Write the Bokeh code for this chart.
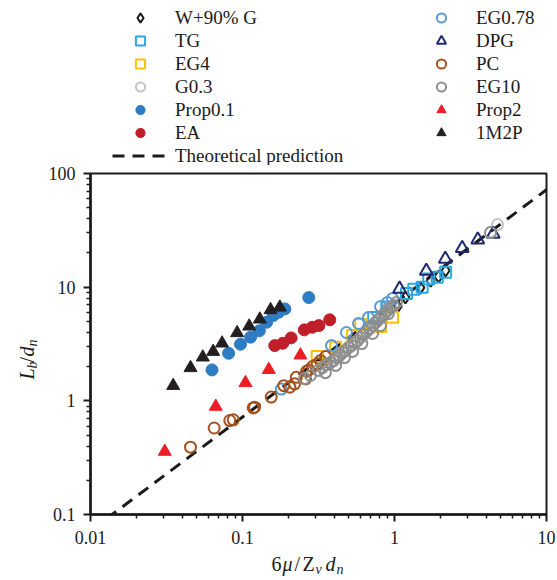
import math
from bokeh.plotting import figure
from bokeh.layouts import row, column
from bokeh.models import Range1d, FixedTicker, Legend, LegendItem
from bokeh.core.properties import value
from bokeh.embed import file_html
from bokeh.resources import INLINE

# ---------------- data ----------------
x_ticks = [0.01, 0.1, 1, 10]
x_tick_labels = ["0.01", "0.1", "1", "10"]
y_ticks = [0.1, 1, 10, 100]
y_tick_labels = ["0.1", "1", "10", "100"]

w90g_x = [1.05, 1.18, 1.48, 1.73, 1.95, 2.17]
w90g_y = [6.75, 8.1, 9.9, 11.4, 12.4, 14.0]

tg_x = [0.73, 0.89, 1.2, 1.34, 1.52, 1.68, 1.91, 2.17]
tg_y = [5.4, 6.68, 8.8, 9.6, 10.0, 11.8, 12.2, 13.5]

eg4_x = [0.31, 0.41, 0.53, 0.60, 0.81, 0.97]
eg4_y = [2.45, 2.96, 3.75, 4.69, 4.5, 5.44]

g03_x = [4.76]
g03_y = [35.5]

prop01_x = [0.063, 0.081, 0.097, 0.113, 0.129, 0.144, 0.159, 0.173, 0.19, 0.273]
prop01_y = [1.87, 2.62, 3.15, 3.63, 4.13, 4.91, 5.62, 6.02, 6.44, 8.1]

ea_x = [0.163, 0.184, 0.209, 0.255, 0.288, 0.318, 0.375]
ea_y = [3.06, 3.21, 3.58, 4.21, 4.44, 4.59, 5.16]

eg078_x = [0.18, 0.385, 0.483, 0.58, 0.674, 0.809, 0.899, 0.97]
eg078_y = [1.27, 3.06, 3.99, 4.79, 5.4, 6.75, 7.32, 7.94]

dpg_x = [1.08, 1.62, 2.16, 2.79, 3.53, 4.46]
dpg_y = [9.66, 13.9, 17.7, 22.0, 26.1, 29.4]

pc_x = [0.0455, 0.0651, 0.0825, 0.0869, 0.1176, 0.12, 0.1545, 0.187, 0.205,
        0.22, 0.226, 0.26, 0.264, 0.273, 0.289, 0.31, 0.326, 0.352]
pc_y = [0.391, 0.577, 0.671, 0.681, 0.867, 0.879, 1.08, 1.36, 1.32,
        1.41, 1.61, 1.56, 1.82, 1.87, 2.0, 2.12, 2.26, 2.45]

eg10_x = [0.256, 0.28, 0.316, 0.336, 0.351, 0.357, 0.379, 0.397, 0.41, 0.415,
          0.435, 0.455, 0.469, 0.476, 0.498, 0.521, 0.53, 0.546, 0.571, 0.597,
          0.61, 0.625, 0.654, 0.685, 0.717, 0.717, 0.75, 0.785, 0.809, 0.821,
          0.859, 0.899, 0.912, 0.941, 0.985, 1.03, 4.28]
eg10_y = [1.57, 1.67, 1.85, 1.96, 1.77, 2.09, 2.17, 2.26, 2.05, 2.40,
          2.50, 2.66, 2.40, 2.77, 2.94, 3.06, 2.72, 3.26, 3.39, 3.61,
          3.19, 3.83, 4.07, 4.32, 4.59, 3.91, 4.88, 5.19, 4.59, 5.51,
          5.86, 6.22, 5.86, 6.62, 6.89, 7.32, 30.2]

prop2_x = [0.0308, 0.0667, 0.1046, 0.149, 0.2405]
prop2_y = [0.358, 0.891, 1.44, 1.88, 2.52]

m1m2p_x = [0.035, 0.0455, 0.0548, 0.0641, 0.0734, 0.0922, 0.1107, 0.130, 0.153, 0.176]
m1m2p_y = [1.36, 1.95, 2.42, 2.71, 3.21, 3.96, 4.53, 5.22, 6.31, 6.65]

theory_coef = 7.2
theory_x = [0.01, 10]
theory_y = [theory_coef * v for v in theory_x]

# series: (label, x, y, marker, colour, filled, size)
series = [
    ("W+90% G", w90g_x, w90g_y, "diamond", "#1a1a1a", False, 12),
    ("TG", tg_x, tg_y, "square", "#29a9e1", False, 11),
    ("EG4", eg4_x, eg4_y, "square", "#ffc000", False, 11),
    ("G0.3", g03_x, g03_y, "circle", "#c4c4c4", False, 11),
    ("Prop0.1", prop01_x, prop01_y, "circle", "#2e7cc4", True, 12),
    ("EA", ea_x, ea_y, "circle", "#c01f2a", True, 12),
    ("EG0.78", eg078_x, eg078_y, "circle", "#5b9bd5", False, 11),
    ("DPG", dpg_x, dpg_y, "triangle", "#1f2b6e", False, 13),
    ("PC", pc_x, pc_y, "circle", "#a5521f", False, 11),
    ("EG10", eg10_x, eg10_y, "circle", "#8e8e8e", False, 11),
    ("Prop2", prop2_x, prop2_y, "triangle", "#ee1c25", True, 13),
    ("1M2P", m1m2p_x, m1m2p_y, "triangle", "#231f20", True, 13),
]
left_labels = ["W+90% G", "TG", "EG4", "G0.3", "Prop0.1", "EA"]
right_labels = ["EG0.78", "DPG", "PC", "EG10", "Prop2", "1M2P"]
theory_label = "Theoretical prediction"

# ---------------- layout constants (page pixels) ----------------
INK = "#1a1a1a"
FONT = "Liberation Serif"
PAGE_W = 557
LEG_H = 165        # legend strip: page y 0..165
YT_W = 45          # y-title strip width
MAIN_W = PAGE_W - YT_W
B_TOP, B_BOT = 8, 36
MAIN_H = B_TOP + 341 + B_BOT   # main figure: page y 165..550 (frame 173..514)
XT_H = 29          # x-title strip: page y 550..579


def draw_series(f, visible=True):
    out = {}
    for lab, xs, ys, mk, col, filled, size in series:
        out[lab] = f.scatter(xs, ys, marker=mk, size=size, line_color=col,
                             fill_color=col if filled else None,
                             line_width=1 if filled else 2, visible=visible)
    return out

# ---------------- main figure ----------------
p = figure(width=MAIN_W, height=MAIN_H, x_axis_type="log", y_axis_type="log",
           x_range=Range1d(0.01, 10), y_range=Range1d(0.1, 100),
           output_backend="svg", toolbar_location=None,
           min_border_left=45, min_border_right=11, min_border_top=B_TOP,
           min_border_bottom=B_BOT)
p.title = None
p.xgrid.visible = False
p.ygrid.visible = False
p.outline_line_color = INK
p.outline_line_width = 2
p.background_fill_color = "white"
p.border_fill_color = "white"

x_minor = [m * 10.0 ** e for e in range(-2, 1) for m in range(2, 10)]
y_minor = [m * 10.0 ** e for e in range(-1, 2) for m in range(2, 10)]
p.xaxis.ticker = FixedTicker(ticks=x_ticks, minor_ticks=x_minor)
p.yaxis.ticker = FixedTicker(ticks=y_ticks, minor_ticks=y_minor)
p.xaxis.major_label_overrides = dict(zip(x_ticks, x_tick_labels))
p.yaxis.major_label_overrides = dict(zip(y_ticks, y_tick_labels))

for ax in (p.xaxis[0], p.yaxis[0]):
    ax.axis_line_width = 2.5
    ax.axis_line_color = INK
    ax.major_tick_line_color = INK
    ax.minor_tick_line_color = INK
    ax.major_tick_line_width = 2
    ax.minor_tick_line_width = 1.5
    ax.major_tick_out = 7
    ax.major_tick_in = 0
    ax.minor_tick_out = 4
    ax.minor_tick_in = 0
    ax.major_label_text_font = FONT
    ax.major_label_text_font_size = "18px"
    ax.major_label_text_color = INK
p.xaxis.major_label_standoff = 9
p.yaxis.major_label_standoff = 8

p.line(theory_x, theory_y, line_dash="12 8", line_width=3, line_color=INK)
draw_series(p)

# ---------------- strips ----------------
def strip(w, h, b_top=0, b_bot=0):
    f = figure(width=w, height=h,
               x_range=Range1d(0, w), y_range=Range1d(0, h - b_top - b_bot),
               x_axis_location=None, y_axis_location=None,
               toolbar_location=None, output_backend="svg", min_border=0,
               min_border_top=b_top, min_border_bottom=b_bot)
    f.title = None
    f.outline_line_color = None
    f.xgrid.visible = False
    f.ygrid.visible = False
    f.background_fill_color = "white"
    f.border_fill_color = "white"
    return f

# legend strip: hidden copies of the series supply the legend glyphs
lg = strip(PAGE_W, LEG_H)
lr = draw_series(lg, visible=False)
l_theory = lg.line(theory_x, theory_y, line_dash="12 8", line_width=3,
                   line_color=INK, visible=False)

leg_common = dict(orientation="vertical", glyph_width=56, glyph_height=23,
                  spacing=0, label_standoff=7, padding=0, margin=0,
                  border_line_alpha=0, background_fill_alpha=0,
                  inactive_fill_alpha=0,
                  label_text_font=FONT, label_text_font_size="19px",
                  label_text_color=INK, label_height=20)
leg_l = Legend(items=[LegendItem(label=s, renderers=[lr[s]]) for s in left_labels]
               + [LegendItem(label=theory_label, renderers=[l_theory])],
               location=(112, -2), **leg_common)
leg_r = Legend(items=[LegendItem(label=s, renderers=[lr[s]]) for s in right_labels],
               location=(413, 21), **leg_common)
lg.add_layout(leg_l, "center")
lg.add_layout(leg_r, "center")

def put(f, xs, ys, texts, size, italic, angle=0.0):
    f.text(x=xs, y=ys, text=texts, text_font=value(FONT),
           text_font_size=value(f"{size}px"),
           text_font_style="italic" if italic else "normal",
           text_align="left", text_baseline="middle",
           text_color=INK, angle=angle)

# y title  L_b/d_n (rotated); strip frame spans page y 173..514
yt = strip(YT_W, MAIN_H, B_TOP, B_BOT)
FB = LEG_H + MAIN_H - B_BOT      # page y of frame bottom (514)
A = math.pi / 2
put(yt, [26, 26], [FB - 379, FB - 356], ["L", "d"], 20, True, A)
put(yt, [26], [FB - 362], ["/"], 20, False, A)
put(yt, [32, 32], [FB - 368, FB - 346], ["b", "n"], 14, True, A)

# x title  6μ/Z_v d_n ; strip spans page y 550..579
xt = strip(PAGE_W, XT_H)
XB = LEG_H + MAIN_H + XT_H
put(xt, [271, 294, 302], [XB - 563] * 3, ["6", "/", "Z"], 20, False)
put(xt, [282, 325], [XB - 563] * 2, ["μ", "d"], 20, True)
put(xt, [315, 336], [XB - 568.5] * 2, ["v", "n"], 14, True)

layout = column(lg, row(yt, p, spacing=0), xt, spacing=0)
open("out.html", "w").write(file_html(layout, INLINE))
